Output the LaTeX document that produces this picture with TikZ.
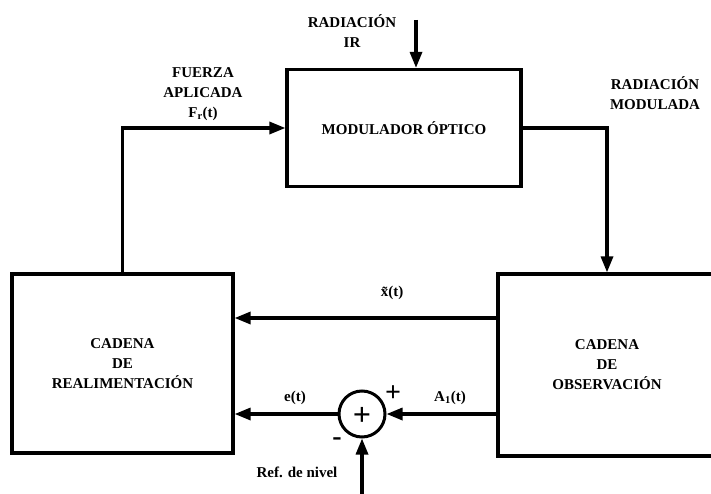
\documentclass[tikz,border=0pt]{standalone}
\usepackage{fontspec}
\setmainfont{Liberation Serif}
\usetikzlibrary{arrows.meta,positioning,calc}

\begin{document}
\begin{tikzpicture}[
        x=1pt, y=-1pt,
        every node/.style={font=\fontsize{15}{20}\selectfont\bfseries},
        block/.style={
            rectangle,
            draw=black,
            line width=3.2pt,
            align=center,
            inner sep=0pt
        },
        sumnode/.style={circle,draw=black,line width=3pt,minimum size=46pt,inner sep=0pt},
        flow/.style={-{Triangle[length=16pt,width=12pt]},line width=3.2pt,draw=black},
        label/.style={align=center,inner sep=1pt},
        sign/.style={font=\fontsize{28}{28}\selectfont\bfseries,inner sep=0pt}
    ]
        \useasboundingbox (0,0) rectangle (711,494);

        \node[block, minimum width=234pt, minimum height=117pt] (modulador) at (404,128)
            {MODULADOR ÓPTICO};
        \node[block, minimum width=221pt, minimum height=179pt] (realim) at (122.5,363.5)
            {CADENA\\DE\\REALIMENTACIÓN};
        \node[block, minimum width=218pt, minimum height=182pt] (observ) at (607,365)
            {CADENA\\DE\\OBSERVACIÓN};
        \node[sumnode] (suma) at (362,414) {};
        \node[sign, font=\fontsize{32}{32}\selectfont\bfseries] at ($(suma)+(0,2)$) {+};

        \coordinate (irin) at (416,20);
        \coordinate (refin) at (362,498);
        \coordinate (xt) at (0,318);

        % labels
        \node[label] (irlabel) at (352,31) {RADIACIÓN\\IR};
        \node[label] (fuerza) at (203,94) {FUERZA\\APLICADA\\F\textsubscript{r}(t)};
        \node[label] (radmod) at (655,93) {RADIACIÓN\\MODULADA};
        \node[label] (xlabel) at (392,293) {\~{x}(t)};
        \node[label] (elabel) at (295,398) {e(t)};
        \node[label] (alabel) at (450,398) {A\textsubscript{1}(t)};
        \node[label] (reflabel) at (297,472) {Ref. de nivel};
        \node[sign] (plus) at (393,394) {+};
        \node[sign] (minus) at (337,442) {-};

        \draw[flow] (irin) -- (modulador.north -| irin);
        \draw[flow] (realim.north) |- (modulador.west);
        \draw[flow] (modulador.east) -| (observ.north);
        \draw[flow] (observ.west |- xt) -- (realim.east |- xt);
        \draw[flow] (observ.west |- suma) -- (suma.east);
        \draw[flow] (suma.west) -- (realim.east |- suma);
        \draw[flow] (refin) -- (suma.south);
    \end{tikzpicture}
\end{document}
